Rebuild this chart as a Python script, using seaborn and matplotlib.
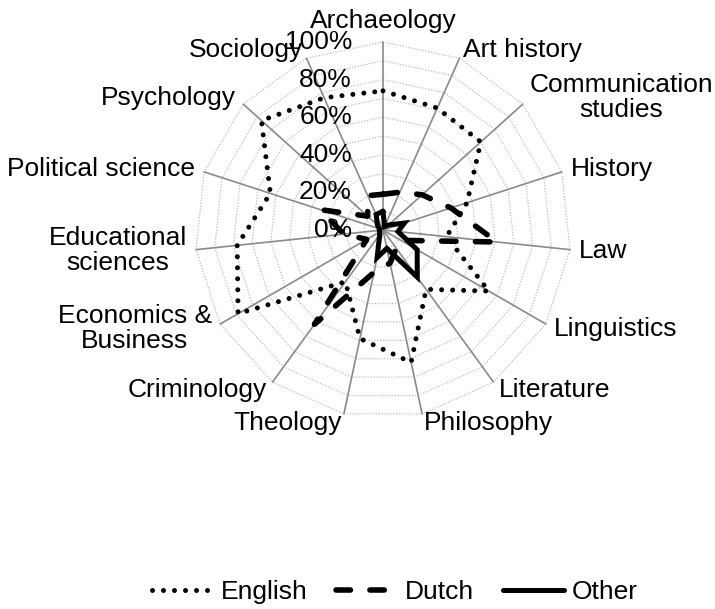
import numpy as np
import pandas as pd
import matplotlib
matplotlib.use("Agg")
import matplotlib.pyplot as plt
import seaborn as sns

# data (percent)
categories = ["Archaeology", "Art history", "Communication\nstudies", "History", "Law",
              "Linguistics", "Literature", "Philosophy", "Theology", "Criminology",
              "Economics &\nBusiness", "Educational\nsciences", "Political science",
              "Psychology", "Sociology"]
english = [74, 71, 70, 47, 34, 65, 39, 72, 59, 34, 89, 78, 63, 87, 77]
dutch = [19, 22, 28, 38, 61, 11, 12, 18, 23, 62, 10, 21, 35, 11, 20]
other = [10, 2, 4, 12, 8, 21, 31, 10, 15, 3, 2, 2, 2, 4, 9]
tick_values = [0, 20, 40, 60, 80, 100]

sns.set_theme(style="white")
plt.rcParams["font.family"] = ["Liberation Sans", "DejaVu Sans"]
plt.rcParams["text.color"] = "black"

n = len(categories)
theta = np.arange(n) * 2 * np.pi / n
sin_t, cos_t = np.sin(theta), np.cos(theta)


def to_xy(values):
    r = np.array(values + values[:1]) / 100.0
    s = np.append(sin_t, sin_t[0])
    c = np.append(cos_t, cos_t[0])
    return r * s, r * c


W, H = 715, 609
R = 188.0
cx, cy = 383, 230
fig = plt.figure(figsize=(W / 100, H / 100), dpi=100)
ax = fig.add_axes([0, 0, 1, 1])
ax.set_xlim(-cx / R, (W - cx) / R)
ax.set_ylim(-(H - cy) / R, cy / R)
ax.axis("off")

# polygon grid every 10 %
for lev in np.arange(1, 11) / 10:
    gx, gy = to_xy([lev * 100] * n)
    ax.plot(gx, gy, color="#bdbdbd", lw=0.9, ls=(0, (1, 1.3)), zorder=1)
for s, c in zip(sin_t, cos_t):
    ax.plot([0, s], [0, c], color="#8a8a8a", lw=1.2, zorder=1)

fs = 19
for v in tick_values:
    ax.text(-0.165, v / 100, f"{v}%", ha="right", va="center", fontsize=fs,
            color="black", zorder=5)

# category labels
for lab, s, c in zip(categories, sin_t, cos_t):
    r = 1.05
    if abs(s) < 0.1:
        ha = "center"
        va = "bottom" if c > 0 else "top"
    else:
        ha = "left" if s > 0 else "right"
        va = "center"
    ax.text(r * s, r * c, lab, ha=ha, va=va, fontsize=fs, multialignment="center",
            linespacing=1.05, color="black")

series = [("English", english, dict(lw=3.6, ls=(0, (0.001, 2.2)), dash_capstyle="round")),
          ("Dutch", dutch, dict(lw=4.0, ls=(0, (2.6, 3.5)), dash_capstyle="round")),
          ("Other", other, dict(lw=3.6, ls="-", solid_joinstyle="miter"))]

for name, vals, kw in series:
    x, y = to_xy(vals)
    df = pd.DataFrame({"x": x, "y": y})
    sns.lineplot(data=df, x="x", y="y", sort=False, estimator=None, color="black",
                 label=name, ax=ax, zorder=4, **kw)

handles, labels = ax.get_legend_handles_labels()
leg = ax.legend(handles, labels, loc="center", bbox_to_anchor=(0.552, 0.028),
                bbox_transform=fig.transFigure, ncol=3, frameon=False, fontsize=fs,
                handlelength=2.3, handletextpad=0.3, columnspacing=1.1, borderpad=0)
for t in leg.get_texts():
    t.set_color("black")

fig.savefig("out.png", dpi=100)
